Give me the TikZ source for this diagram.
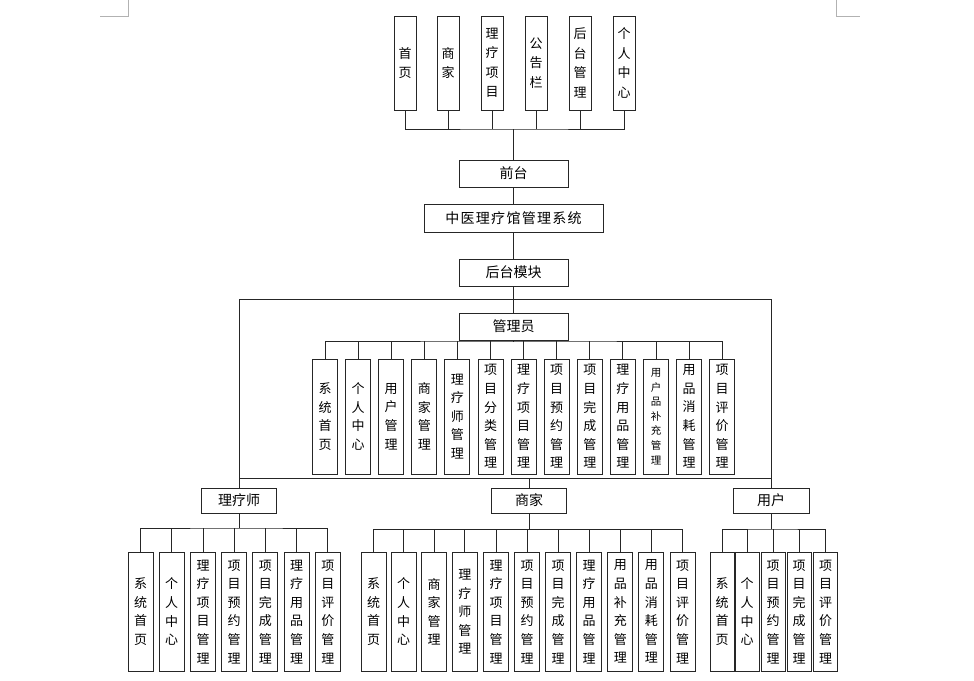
\documentclass[tikz,border=0pt]{standalone}
\usepackage{fontspec}
\newfontfamily\cjk{Noto Sans CJK SC}
\newfontfamily\cjkwide[LetterSpace=9]{Noto Sans CJK SC}
\begin{document}
\begin{tikzpicture}[x=1pt,y=-1pt,
  ln/.style={draw=black!85, line width=1pt},
  vb/.style={draw=black!85, line width=1pt, inner sep=0pt, minimum width=25pt, align=center, font=\cjk\fontsize{13}{18.6}\selectfont},
  vbs/.style={vb, font=\cjk\fontsize{10.5}{14.6}\selectfont},
  topb/.style={vb, minimum width=22pt, minimum height=94pt, font=\cjk\fontsize{13}{19.5}\selectfont},
  admb/.style={vb, minimum height=115pt},
  botb/.style={vb, minimum height=119.5pt},
  hb/.style={draw=black!85, line width=1pt, inner sep=0pt, minimum height=27pt, minimum width=109pt, font=\cjk\fontsize{14}{16}\selectfont},
  rb/.style={hb, minimum height=25pt, minimum width=75pt},
  mk/.style={draw=black!30, line width=0.8pt}]
\fill[white] (0,0) rectangle (974,680);
\useasboundingbox (0,0) rectangle (974,680);
% page margin marks
\draw[mk] (128,0) -- (128,16) -- (100,16);
\draw[mk] (836,0) -- (836,16) -- (860,16);
% top row
\node[topb] (t1) at (405,63) {首\\页};
\node[topb] (t2) at (448,63) {商\\家};
\node[topb] (t3) at (492,63) {理\\疗\\项\\目};
\node[topb] (t4) at (536,63) {公\\告\\栏};
\node[topb] (t5) at (580,63) {后\\台\\管\\理};
\node[topb] (t6) at (624,63) {个\\人\\中\\心};
% main column
\node[hb] (qt) at (513.5,173.5) {前台};
\node[hb, minimum width=179pt, minimum height=28pt, font=\cjkwide\fontsize{14}{16}\selectfont] (sys) at (513.5,218) {中医理疗馆管理系统};
\node[hb] (ht) at (513.5,272.5) {后台模块};
\node[hb] (gly) at (513.5,326.5) {管理员};
\coordinate (bus1) at (513.5,129);
\draw[ln] (t1.south) |- (bus1) -| (t6.south);
\foreach \n in {t2,t3,t4,t5} \draw[ln] (\n.south) -- (\n.south |- bus1);
\draw[ln] (bus1) -- (qt.north);
\draw[ln] (qt) -- (sys);
\draw[ln] (sys) -- (ht);
\draw[ln] (ht) -- (gly);
% admin children
\node[admb] (a1) at (325,416.5) {系\\统\\首\\页};
\node[admb] (a2) at (358.1,416.5) {个\\人\\中\\心};
\node[admb] (a3) at (391.2,416.5) {用\\户\\管\\理};
\node[admb] (a4) at (424.3,416.5) {商\\家\\管\\理};
\node[admb] (a5) at (457.4,416.5) {理\\疗\\师\\管\\理};
\node[admb] (a6) at (490.5,416.5) {项\\目\\分\\类\\管\\理};
\node[admb] (a7) at (523.6,416.5) {理\\疗\\项\\目\\管\\理};
\node[admb] (a8) at (556.7,416.5) {项\\目\\预\\约\\管\\理};
\node[admb] (a9) at (589.8,416.5) {项\\目\\完\\成\\管\\理};
\node[admb] (a10) at (622.9,416.5) {理\\疗\\用\\品\\管\\理};
\node[admb, vbs] (a11) at (656,416.5) {用\\户\\品\\补\\充\\管\\理};
\node[admb] (a12) at (689.1,416.5) {用\\品\\消\\耗\\管\\理};
\node[admb] (a13) at (722.2,416.5) {项\\目\\评\\价\\管\\理};
\coordinate (abus) at (513.5,341);
\draw[ln] (gly.south) -- (abus);
\draw[ln] (a1.north) |- (abus) -| (a13.north);
\foreach \n in {a2,a3,a4,a5,a6,a7,a8,a9,a10,a11,a12} \draw[ln] (\n.north) -- (\n.north |- abus);
% roles
\node[rb] (lls) at (239,500.5) {理疗师};
\node[rb] (sj) at (529,500.5) {商家};
\node[rb, minimum width=76pt] (yh) at (771,500.5) {用户};
\coordinate (btop) at (513.5,299);
\coordinate (bbot) at (513.5,478);
\draw[ln] (lls.north) -- (lls.north |- btop) -- (yh.north |- btop) -- (yh.north);
\draw[ln] (lls.north |- bbot) -- (yh.north |- bbot);
\draw[ln] (sj.north |- bbot) -- (sj.north);
% therapist children
\node[botb] (l1) at (140.5,611.75) {系\\统\\首\\页};
\node[botb] (l2) at (171.7,611.75) {个\\人\\中\\心};
\node[botb] (l3) at (203,611.75) {理\\疗\\项\\目\\管\\理};
\node[botb] (l4) at (234.2,611.75) {项\\目\\预\\约\\管\\理};
\node[botb] (l5) at (265.4,611.75) {项\\目\\完\\成\\管\\理};
\node[botb] (l6) at (296.6,611.75) {理\\疗\\用\\品\\管\\理};
\node[botb] (l7) at (327.8,611.75) {项\\目\\评\\价\\管\\理};
\coordinate (lbus) at (239,528);
\draw[ln] (lls.south) -- (lbus);
\draw[ln] (l1.north) |- (lbus) -| (l7.north);
\foreach \n in {l2,l3,l4,l5,l6} \draw[ln] (\n.north) -- (\n.north |- lbus);
% merchant children
\node[botb] (s1) at (373.5,611.75) {系\\统\\首\\页};
\node[botb] (s2) at (403.6,611.75) {个\\人\\中\\心};
\node[botb] (s3) at (434.2,611.75) {商\\家\\管\\理};
\node[botb] (s4) at (464.8,611.75) {理\\疗\\师\\管\\理};
\node[botb] (s5) at (496,611.75) {理\\疗\\项\\目\\管\\理};
\node[botb] (s6) at (527,611.75) {项\\目\\预\\约\\管\\理};
\node[botb] (s7) at (558,611.75) {项\\目\\完\\成\\管\\理};
\node[botb] (s8) at (589.2,611.75) {理\\疗\\用\\品\\管\\理};
\node[botb] (s9) at (620.3,611.75) {用\\品\\补\\充\\管\\理};
\node[botb] (s10) at (651.4,611.75) {用\\品\\消\\耗\\管\\理};
\node[botb] (s11) at (682.5,611.75) {项\\目\\评\\价\\管\\理};
\coordinate (sbus) at (529,529.5);
\draw[ln] (sj.south) -- (sbus);
\draw[ln] (s1.north) |- (sbus) -| (s11.north);
\foreach \n in {s2,s3,s4,s5,s6,s7,s8,s9,s10} \draw[ln] (\n.north) -- (\n.north |- sbus);
% user children
\node[botb, minimum width=24pt] (u1) at (722,611.75) {系\\统\\首\\页};
\node[botb, minimum width=24pt] (u2) at (747,611.75) {个\\人\\中\\心};
\node[botb, minimum width=24pt] (u3) at (773,611.75) {项\\目\\预\\约\\管\\理};
\node[botb, minimum width=24pt] (u4) at (799,611.75) {项\\目\\完\\成\\管\\理};
\node[botb, minimum width=24pt] (u5) at (825.5,611.75) {项\\目\\评\\价\\管\\理};
\coordinate (ubus) at (771,529);
\draw[ln] (yh.south) -- (ubus);
\draw[ln] (u1.north) |- (ubus) -| (u5.north);
\foreach \n in {u2,u3,u4} \draw[ln] (\n.north) -- (\n.north |- ubus);
\end{tikzpicture}
\end{document}
